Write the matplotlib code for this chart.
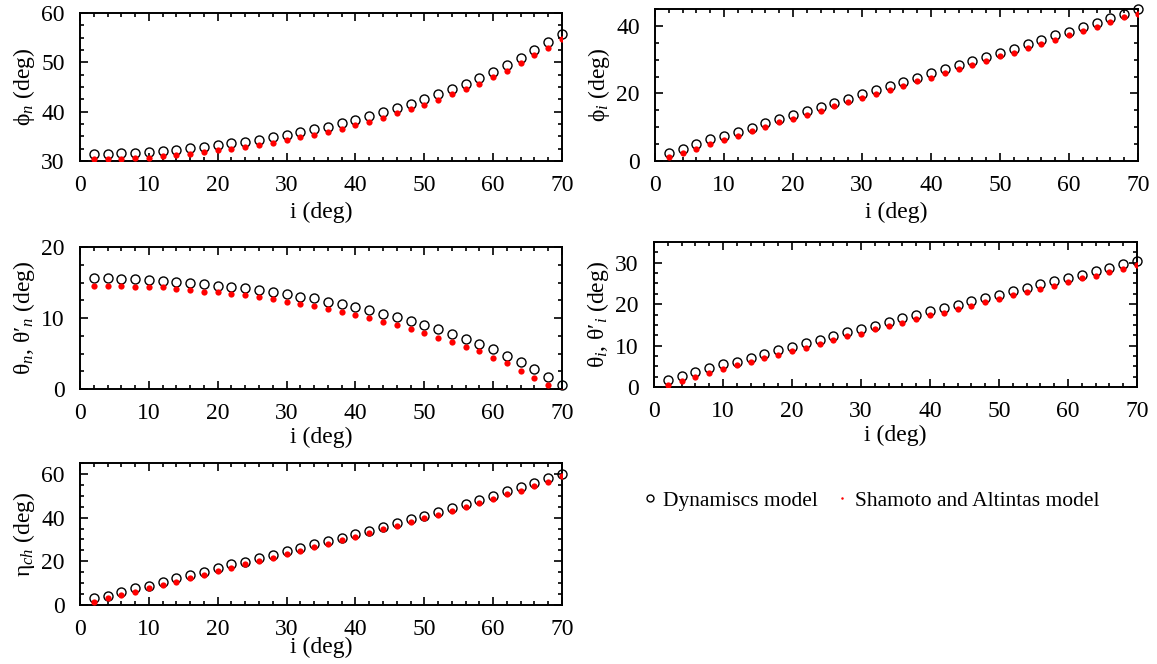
import numpy as np
import matplotlib
matplotlib.use("Agg")
import matplotlib.pyplot as plt
from matplotlib.lines import Line2D
from matplotlib.ticker import MultipleLocator

plt.rcParams['font.family'] = ['Liberation Serif', 'DejaVu Serif']
plt.rcParams['mathtext.fontset'] = 'custom'
plt.rcParams['mathtext.rm'] = 'Liberation Serif'
plt.rcParams['mathtext.it'] = 'Liberation Serif:italic'
plt.rcParams['font.size'] = 17

# incidence angle i (deg)
inc = np.arange(2, 71, 2)

# phi_n
phin_dyn = [31.5, 31.5, 31.7, 31.7, 31.9, 32.1, 32.2, 32.6, 32.8, 33.2, 33.6, 33.9,
            34.3, 34.9, 35.3, 35.9, 36.4, 36.9, 37.7, 38.3, 39.1, 40.0, 40.8, 41.6,
            42.6, 43.5, 44.5, 45.6, 46.9, 48.1, 49.4, 50.9, 52.5, 54.1, 55.8]
phin_sa = [30.4, 30.4, 30.4, 30.6, 30.7, 31.0, 31.2, 31.4, 31.8, 32.2, 32.4, 32.9,
           33.2, 33.6, 34.2, 34.8, 35.3, 35.9, 36.5, 37.2, 38.0, 38.8, 39.7, 40.5,
           41.4, 42.3, 43.5, 44.6, 45.7, 47.1, 48.3, 49.9, 51.4, 53.0, 54.8]

# phi_i
phii_dyn = [2.5, 3.6, 5.0, 6.4, 7.4, 8.7, 9.9, 11.2, 12.4, 13.6, 14.7, 16.1,
            17.3, 18.5, 19.7, 21.0, 22.2, 23.5, 24.7, 26.0, 27.1, 28.5, 29.6, 30.9,
            32.0, 33.3, 34.5, 35.8, 37.2, 38.3, 39.7, 41.0, 42.2, 43.5, 44.9]
phii_sa = [1.3, 2.5, 3.7, 5.0, 6.2, 7.5, 8.8, 10.0, 11.4, 12.5, 13.7, 14.9,
           16.3, 17.5, 18.7, 19.8, 21.1, 22.3, 23.6, 24.7, 26.1, 27.3, 28.5, 29.6,
           31.1, 32.1, 33.4, 34.6, 35.9, 37.2, 38.4, 39.7, 41.1, 42.5, 43.5]

# theta_n
thn_dyn = [15.6, 15.6, 15.5, 15.5, 15.3, 15.2, 15.1, 15.0, 14.8, 14.5, 14.4, 14.2,
           13.9, 13.6, 13.4, 13.0, 12.8, 12.3, 12.0, 11.5, 11.1, 10.6, 10.1, 9.6,
           9.0, 8.4, 7.8, 7.1, 6.3, 5.6, 4.7, 3.8, 2.8, 1.7, 0.5]
thn_sa = [14.5, 14.5, 14.5, 14.4, 14.4, 14.3, 14.1, 13.9, 13.7, 13.6, 13.4, 13.2,
          12.9, 12.7, 12.3, 12.0, 11.7, 11.2, 10.9, 10.4, 10.0, 9.5, 9.0, 8.4,
          7.9, 7.2, 6.6, 5.9, 5.3, 4.4, 3.6, 2.6, 1.6, 0.6, -0.4]

# theta_i
thi_dyn = [1.8, 2.7, 3.6, 4.6, 5.5, 6.1, 7.0, 8.0, 8.9, 9.7, 10.7, 11.4,
           12.3, 13.2, 14.1, 14.8, 15.8, 16.6, 17.4, 18.3, 19.1, 19.9, 20.8, 21.4,
           22.3, 23.2, 24.0, 24.9, 25.5, 26.4, 27.1, 28.0, 28.8, 29.7, 30.3]
thi_sa = [0.6, 1.5, 2.5, 3.4, 4.3, 5.2, 6.1, 7.0, 7.8, 8.6, 9.5, 10.4,
          11.3, 12.2, 12.9, 13.9, 14.7, 15.5, 16.3, 17.3, 17.9, 18.8, 19.5, 20.4,
          21.3, 22.1, 22.9, 23.6, 24.5, 25.3, 26.2, 26.8, 27.7, 28.5, 29.4]

# eta_ch
eta_dyn = [3.0, 4.2, 5.9, 7.7, 8.9, 10.6, 12.4, 13.6, 15.3, 16.9, 18.6, 19.9,
           21.4, 23.1, 24.6, 26.1, 27.8, 29.5, 30.8, 32.6, 34.1, 35.8, 37.5, 39.3,
           40.8, 42.4, 44.3, 46.1, 48.0, 49.8, 52.0, 54.1, 56.0, 58.2, 60.0]
eta_sa = [1.4, 3.0, 4.7, 6.0, 7.7, 9.2, 10.7, 12.4, 13.9, 15.4, 17.1, 18.6,
          20.2, 21.6, 23.3, 24.9, 26.4, 27.9, 29.6, 31.3, 32.9, 34.6, 36.1, 37.9,
          39.6, 41.4, 43.1, 44.9, 46.5, 48.5, 50.6, 52.3, 54.4, 56.5, 59.1]

W, H = 1157, 664
fig = plt.figure(figsize=(W / 100, H / 100), dpi=100)


def px_axes(left, right, top, bottom):
    return fig.add_axes([left / W, 1 - bottom / H, (right - left) / W, (bottom - top) / H])


panels = [
    # (box, dyn, sa, ylim, ymajor, yminor, ylabel, xlabel pad)
    ((80, 562, 13, 161), phin_dyn, phin_sa, (30, 60), 10, 2.5, 'ϕ$_n$ (deg)', 4),
    ((655, 1138, 9, 161), phii_dyn, phii_sa, (0, 45), 20, 5, 'ϕ$_i$ (deg)', 4),
    ((80, 562, 247, 389), thn_dyn, thn_sa, (0, 20), 10, 2.5, 'θ$_n$, θ′$_n$ (deg)', 2),
    ((654, 1137, 242, 387), thi_dyn, thi_sa, (0, 35), 10, 2.5, 'θ$_i$, θ′$_i$ (deg)', 2),
    ((80, 562, 463, 605), eta_dyn, eta_sa, (0, 65), 20, 5, 'η$_{ch}$ (deg)', -2),
]

for box, dyn, sa, ylim, ymaj, ymin, ylab, xpad in panels:
    ax = px_axes(*box)
    ax.plot(inc, dyn, 'o', mfc='none', mec='black', ms=6.5, mew=1.0, clip_on=False, zorder=3)
    ax.plot(inc, sa, 'o', color='red', ms=4.5, mew=0, zorder=4)
    ax.set_xlim(0, 70)
    ax.set_ylim(*ylim)
    ax.xaxis.set_major_locator(MultipleLocator(10))
    ax.xaxis.set_minor_locator(MultipleLocator(2))
    ax.yaxis.set_major_locator(MultipleLocator(ymaj))
    ax.yaxis.set_minor_locator(MultipleLocator(ymin))
    ax.tick_params(which='both', direction='in', top=True, right=True, width=1.2)
    ax.tick_params(which='major', length=6, labelsize=17)
    ax.tick_params(axis='x', which='major', pad=10)
    ax.tick_params(axis='y', which='major', pad=11)
    ax.tick_params(which='minor', length=3)
    for s in ax.spines.values():
        s.set_linewidth(1.4)
    ax.set_xlabel('i (deg)', fontsize=17, labelpad=xpad)
    ax.set_ylabel(ylab, fontsize=17, labelpad=3)

handles = [
    Line2D([], [], ls='none', marker='o', mfc='none', mec='black', ms=5, mew=1.0),
    Line2D([], [], ls='none', marker='o', color='red', ms=1.8, mew=0),
]
fig.legend(handles, ['Dynamiscs model', 'Shamoto and Altintas model'],
           loc='center left', bbox_to_anchor=(633 / W, 1 - 501 / H), ncol=2,
           frameon=False, fontsize=15.5, handlelength=0.6, handletextpad=0.3,
           columnspacing=0.8, borderpad=0)

fig.savefig('out.png', dpi=100)
